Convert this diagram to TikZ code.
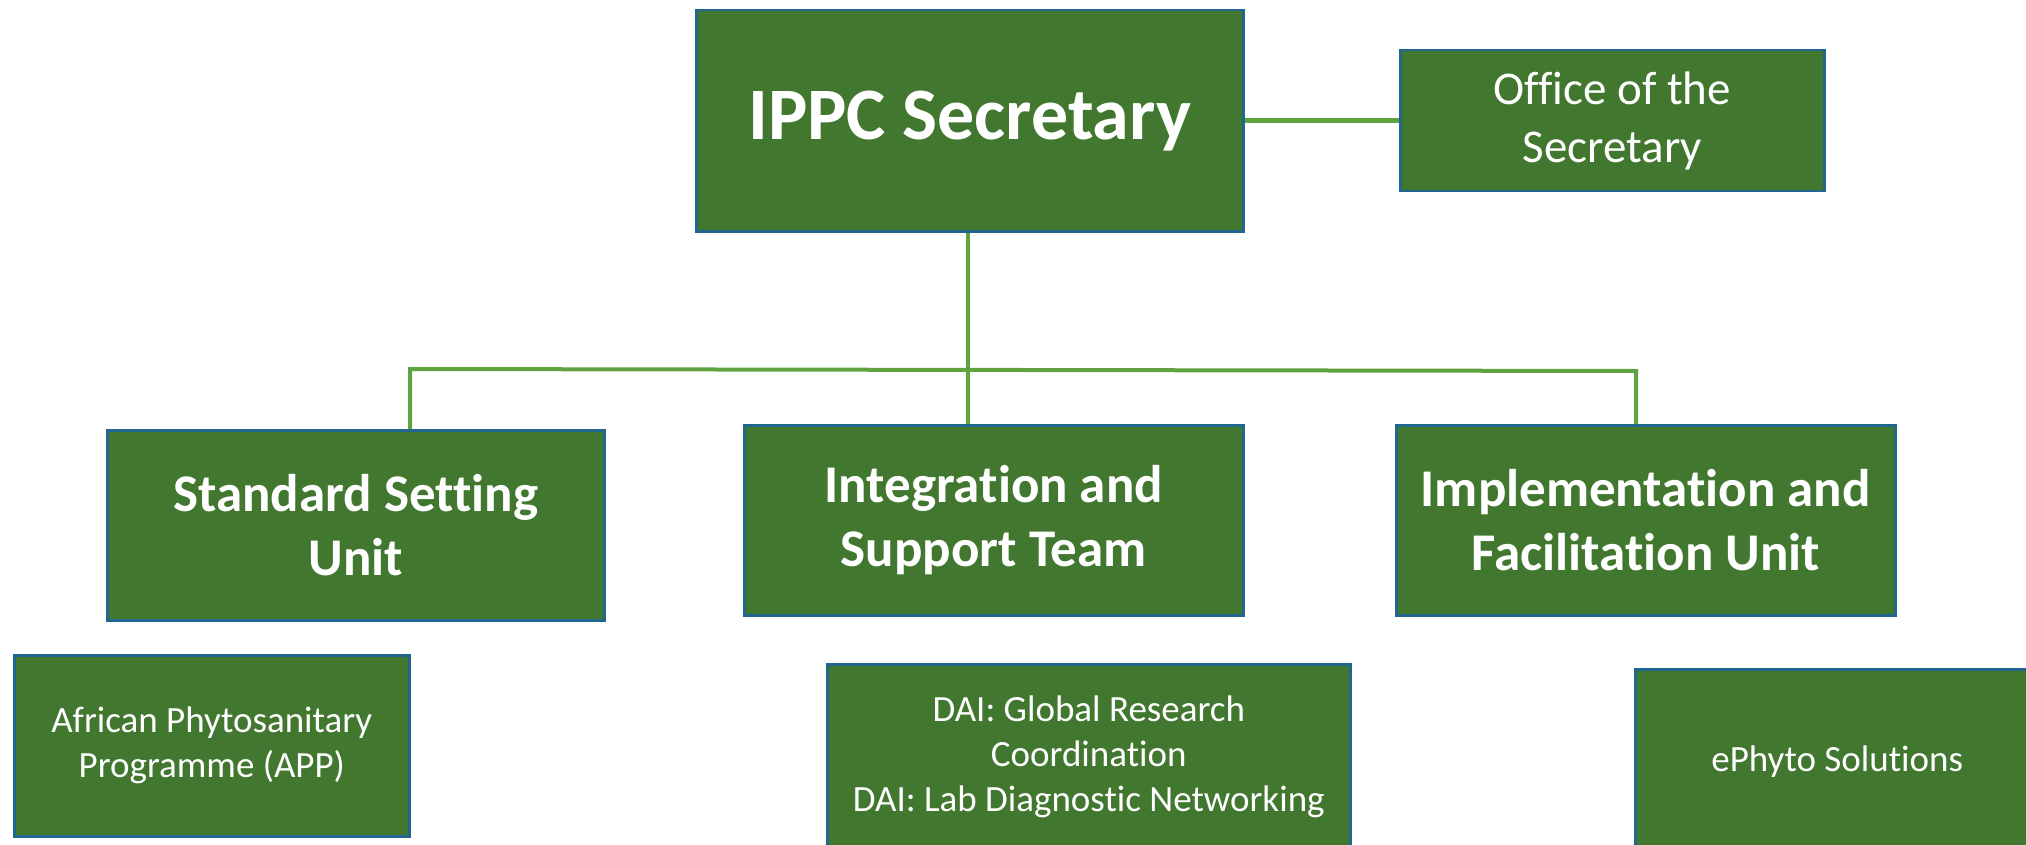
\documentclass[tikz,border=0pt]{standalone}
\usepackage{fontspec}
\setmainfont{Carlito}[Ligatures={NoCommon,NoContextual}]
\newcommand\tiX{t\kern0pt i}
\definecolor{boxfill}{HTML}{41772F}
\definecolor{boxline}{HTML}{22658F}
\definecolor{linkc}{HTML}{5EA340}
\tikzset{
  orgbox/.style={draw=boxline, line width=2.5pt, fill=boxfill, text=white, align=center, inner sep=0pt, anchor=north west},
  big/.style={font=\fontsize{74}{88}\selectfont\bfseries},
  mid/.style={font=\fontsize{53}{64.5}\selectfont\bfseries},
  office/.style={font=\fontsize{47}{58}\selectfont},
  small/.style={font=\fontsize{37}{45}\selectfont},
  link/.style={draw=linkc, line width=4pt},
}
\begin{document}
\begin{tikzpicture}[x=1pt,y=1pt]
\useasboundingbox (0,0) rectangle (2026,-845);
\clip (0,0) rectangle (2026,-845);
% top level
\node[orgbox, big, minimum width=547pt, minimum height=221pt] (ippc) at (695,-9) {IPPC Secretary};
\node[orgbox, office, minimum width=424pt, minimum height=141pt] (office) at (1399,-49) {Office of the\\Secretary};
% units
\node[orgbox, mid, minimum width=497pt, minimum height=190pt] (std) at (106,-429) {Standard Set\tiX ng\\Unit};
\node[orgbox, mid, minimum width=499pt, minimum height=190pt] (integ) at (743,-424) {Integra\tiX on and\\Support Team};
\node[orgbox, mid, minimum width=499pt, minimum height=190pt] (impl) at (1395,-424) {Implementa\tiX on and\\Facilita\tiX on Unit};
% programmes
\node[orgbox, small, minimum width=395pt, minimum height=181pt] (app) at (13,-654) {African Phytosanitary\\Programme (APP)};
\node[orgbox, small, minimum width=523pt, minimum height=186pt] (dai) at (826,-663) {DAI: Global Research\\Coordina\tiX on\\DAI: Lab Diagnos\tiX c Networking};
\node[orgbox, small, minimum width=404pt, minimum height=184pt] (ephyto) at (1634,-668) {ePhyto Solu\tiX ons};
% connectors
\coordinate (jL) at (410,-369);
\coordinate (jR) at (1636,-371);
\coordinate (jM) at (968,-370);
\draw[link, line width=5pt] (ippc.east) -- (office.west);
\draw[link] (ippc.south -| jM) -- (jM |- integ.north);
\draw[link] (jL |- std.north) -- (jL) -- (jR) -- (jR |- impl.north);
\end{tikzpicture}
\end{document}
